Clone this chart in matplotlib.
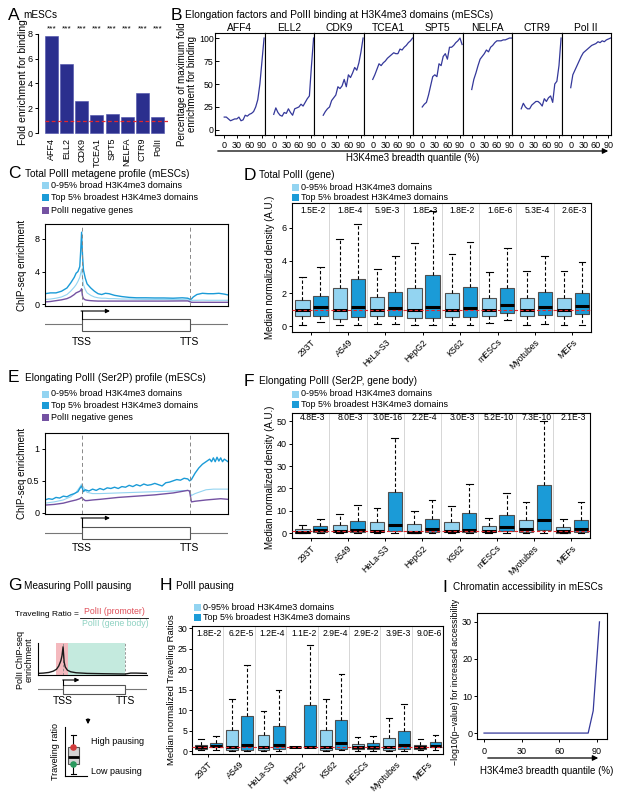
"""Multi-panel figure: elongation factors, PolII profiles and pausing at broad H3K4me3 domains."""
import matplotlib

matplotlib.use("Agg")
import matplotlib.pyplot as plt
from matplotlib.patches import Rectangle, FancyArrowPatch

plt.rcParams["font.family"] = ["Liberation Sans", "DejaVu Sans"]
plt.rcParams["axes.linewidth"] = 0.8
plt.rcParams["xtick.major.size"] = 2.5
plt.rcParams["ytick.major.size"] = 2.5
plt.rcParams["xtick.major.width"] = 0.7
plt.rcParams["ytick.major.width"] = 0.7
plt.rcParams["xtick.major.pad"] = 1.5
plt.rcParams["ytick.major.pad"] = 1.5

W, H = 621, 797

NAVY = "#2b2f8e"
LINE = "#34389a"
LIGHT = "#93d4f1"
DARK = "#1b9bd7"
PURPLE = "#7452a2"
RED = "#e3262c"

# ---------------- data ----------------
# A
factors = ["AFF4", "ELL2", "CDK9", "TCEA1", "SPT5", "NELFA", "CTR9", "PolII"]
fold_enrichment = [7.8, 5.6, 2.55, 1.45, 1.5, 1.3, 3.25, 1.3]

# B
b_titles = ["AFF4", "ELL2", "CDK9", "TCEA1", "SPT5", "NELFA", "CTR9", "Pol II"]
quantiles = [0, 5, 10, 15, 20, 25, 30, 35, 40, 45, 50, 55, 60, 65, 70, 75, 80, 85, 90, 95]
pct_aff4 = [14, 14, 12, 10, 11, 12, 12, 14, 10, 11, 16, 15, 17, 18, 20, 25, 33, 50, 75, 100]
pct_ell2 = [17, 24, 19, 16, 15, 19, 18, 23, 19, 16, 23, 24, 25, 28, 26, 30, 34, 37, 70, 100]
pct_cdk9 = [16, 20, 23, 25, 32, 35, 38, 47, 45, 48, 55, 47, 60, 57, 62, 68, 65, 73, 85, 100]
pct_tcea1 = [55, 60, 66, 72, 70, 73, 75, 78, 80, 82, 84, 83, 83, 88, 87, 90, 92, 95, 97, 100]
pct_spt5 = [25, 28, 30, 38, 48, 58, 60, 58, 72, 70, 80, 83, 77, 90, 90, 92, 95, 97, 100, 93]
pct_nelfa = [44, 55, 62, 70, 77, 80, 83, 87, 85, 90, 92, 95, 97, 97, 97, 98, 98, 99, 100, 100]
pct_ctr9 = [23, 29, 25, 23, 23, 27, 29, 31, 31, 29, 26, 34, 31, 35, 37, 30, 50, 53, 70, 100]
pct_polii = [46, 60, 65, 70, 75, 80, 84, 86, 88, 90, 92, 93, 94, 96, 95, 97, 96, 98, 99, 100]
b_series = [pct_aff4, pct_ell2, pct_cdk9, pct_tcea1, pct_spt5, pct_nelfa, pct_ctr9, pct_polii]

# C (metagene position, TSS = 20, TTS = 79)
c_pos = [0, 3, 6, 9, 12, 14, 16, 17, 18, 19, 19.5, 20, 20.5, 21, 22, 23, 25, 27, 29, 31, 33,
         35, 38, 42, 46, 50, 55, 60, 65, 70, 75, 78, 79.5, 80, 81, 83, 86, 89, 92, 95, 98, 100]
c_top5 = [1.3, 1.4, 1.4, 1.6, 2.0, 2.6, 3.3, 3.8, 4.0, 4.6, 6.5, 8.8, 6.0, 4.2, 3.2, 2.5, 2.0,
          1.6, 1.3, 1.2, 1.35, 1.3, 1.1, 0.95, 0.85, 0.8, 0.8, 0.78, 0.78, 0.75, 0.8, 0.75, 0.6,
          0.65, 0.9, 1.2, 1.35, 1.3, 1.3, 1.35, 1.25, 1.15]
c_rest = [0.6, 0.65, 0.75, 0.9, 1.2, 1.6, 2.1, 2.4, 2.8, 3.3, 3.8, 4.3, 3.3, 2.4, 1.8, 1.4, 1.1,
          0.9, 0.8, 0.75, 0.75, 0.7, 0.7, 0.65, 0.65, 0.62, 0.6, 0.6, 0.6, 0.58, 0.58, 0.55, 0.45,
          0.45, 0.5, 0.5, 0.52, 0.5, 0.5, 0.5, 0.5, 0.5]
c_neg = [0.3, 0.35, 0.45, 0.55, 0.7, 0.9, 1.2, 1.4, 1.5, 1.6, 1.7, 1.9, 1.0, 0.7, 0.55, 0.5, 0.45,
         0.42, 0.4, 0.4, 0.4, 0.4, 0.4, 0.4, 0.4, 0.4, 0.4, 0.4, 0.4, 0.41, 0.42, 0.42, 0.3,
         0.25, 0.25, 0.25, 0.25, 0.25, 0.25, 0.25, 0.25, 0.25]

# E
e_pos = [0, 2, 4, 6, 8, 10, 12, 14, 16, 18, 19, 20, 21, 22, 24, 26, 28, 30, 32, 34, 36, 38, 40,
         42, 44, 46, 48, 50, 52, 54, 56, 58, 60, 62, 64, 66, 68, 70, 72, 74, 76, 78, 79, 80, 81,
         82, 84, 86, 88, 90, 91, 92, 93, 94, 95, 96, 97, 98, 100]
e_top5 = [0.2, 0.22, 0.21, 0.24, 0.23, 0.26, 0.25, 0.28, 0.3, 0.33, 0.38, 0.42, 0.33, 0.36, 0.34,
          0.37, 0.35, 0.38, 0.36, 0.39, 0.38, 0.4, 0.38, 0.41, 0.4, 0.43, 0.41, 0.44, 0.42, 0.45,
          0.43, 0.44, 0.46, 0.44, 0.42, 0.47, 0.48, 0.5, 0.52, 0.51, 0.54, 0.53, 0.5, 0.52, 0.57,
          0.62, 0.7, 0.76, 0.8, 0.84, 0.8, 0.86, 0.8, 0.87, 0.81, 0.86, 0.8, 0.84, 0.8]
e_pos_smooth = [0, 5, 10, 14, 17, 19, 20, 21, 22, 23, 26, 30, 40, 50, 60, 70, 78, 79, 80, 82,
                85, 88, 92, 96, 100]
e_rest = [0.15, 0.17, 0.2, 0.25, 0.32, 0.4, 0.45, 0.4, 0.35, 0.32, 0.3, 0.3, 0.31, 0.32, 0.33,
          0.34, 0.35, 0.34, 0.27, 0.3, 0.33, 0.36, 0.37, 0.37, 0.37]
e_neg = [0.12, 0.13, 0.15, 0.18, 0.2, 0.22, 0.24, 0.21, 0.19, 0.19, 0.2, 0.21, 0.24, 0.26, 0.28,
         0.31, 0.35, 0.34, 0.17, 0.18, 0.19, 0.2, 0.21, 0.22, 0.21]

# D, F, H boxplots: (whislo, q1, med, q3, whishi)
cell_lines = ["293T", "A549", "HeLa-S3", "HepG2", "K562", "mESCs", "Myotubes", "MEFs"]
d_light = [(0.1, 0.65, 1.0, 1.6, 3.0), (0.05, 0.45, 1.0, 2.35, 5.3), (0.15, 0.6, 1.0, 1.75, 3.5),
           (0.05, 0.5, 1.0, 2.3, 5.05), (0.05, 0.55, 1.0, 2.05, 4.4), (0.2, 0.65, 1.0, 1.7, 3.3),
           (0.1, 0.6, 1.0, 1.7, 3.35), (0.1, 0.6, 1.0, 1.7, 3.35)]
d_dark = [(0.25, 0.65, 1.15, 1.85, 3.6), (0.05, 0.55, 1.2, 2.85, 6.2), (0.15, 0.65, 1.1, 2.1, 4.25),
          (0.1, 0.5, 1.2, 3.1, 7.0), (0.1, 0.55, 1.1, 2.4, 5.1), (0.35, 0.8, 1.3, 2.35, 4.75),
          (0.15, 0.7, 1.2, 2.1, 4.25), (0.1, 0.75, 1.25, 2.05, 3.9)]
d_pvals = ["1.5E-2", "1.8E-4", "5.9E-3", "1.8E-3", "1.8E-2", "1.6E-6", "5.3E-4", "2.6E-3"]

f_light = [(0, 0.2, 0.7, 1.8, 3.8), (0, 0.3, 0.9, 3.5, 8.5), (0, 0.3, 1.0, 4.8, 11.2),
           (0, 0.2, 0.7, 4.0, 9.7), (0, 0.4, 1.0, 5.0, 12.0), (0, 0.3, 0.8, 3.0, 6.6),
           (0, 0.5, 2.0, 5.8, 13.8), (0, 0.2, 0.8, 2.7, 6.2)]
f_dark = [(0.1, 0.5, 1.3, 3.0, 6.3), (0, 0.4, 1.3, 5.3, 12.5), (0, 0.8, 3.8, 18.2, 42.5),
          (0, 0.5, 1.8, 6.3, 14.8), (0, 0.5, 1.6, 9.0, 21.8), (0, 1.0, 2.6, 8.1, 17.9),
          (0, 1.3, 6.0, 21.5, 50.0), (0, 0.5, 1.8, 6.0, 14.0)]
f_pvals = ["4.8E-3", "8.0E-3", "3.0E-16", "2.2E-4", "3.0E-3", "5.2E-10", "7.3E-10", "2.1E-3"]

h_light = [(0.3, 0.6, 1.0, 1.55, 2.9), (0.0, 0.2, 1.0, 5.2, 12.8), (0.0, 0.3, 1.0, 3.9, 9.7),
           (1.0, 1.0, 1.0, 1.05, 1.1), (0.0, 0.3, 1.1, 5.2, 12.8), (0.1, 0.5, 1.0, 1.7, 3.4),
           (0.0, 0.3, 0.9, 3.3, 8.1), (0.2, 0.5, 0.9, 1.55, 2.9)]
h_dark = [(0.2, 0.9, 1.3, 2.0, 3.8), (0.0, 0.3, 1.6, 8.6, 21.0), (0.0, 0.5, 1.5, 6.1, 15.0),
          (1.0, 1.0, 1.1, 11.2, 25.9), (0.2, 0.5, 2.0, 7.7, 18.7), (0.1, 0.6, 1.1, 2.0, 3.8),
          (0.0, 0.5, 1.4, 4.8, 11.6), (0.3, 1.0, 1.3, 2.2, 4.0)]
h_pvals = ["1.8E-2", "6.2E-5", "1.2E-4", "1.1E-2", "2.9E-4", "2.9E-2", "3.9E-3", "9.0E-6"]

# G schematic
g_pos = [0, 5, 10, 14, 17, 19, 21, 22, 23, 24, 25, 27, 30, 35, 45, 60, 80, 85, 90, 100]
g_signal = [0.05, 0.06, 0.08, 0.12, 0.18, 0.28, 0.45, 0.6, 0.88, 0.4, 0.25, 0.15, 0.1, 0.07,
            0.05, 0.04, 0.03, 0.06, 0.06, 0.05]
g_box = (2, 12, 19, 29, 41)

# I
i_quantile = [0, 10, 20, 30, 40, 50, 60, 70, 80, 83, 87, 92]
i_logp = [0, 0, 0, 0, 0, 0, 0, 0, 0, 0, 6, 30]

# ---------------- helpers ----------------
fig = plt.figure(figsize=(W / 100, H / 100), dpi=100)


def frac(x0, y0, x1, y1):
    return [x0 / W, 1 - y1 / H, (x1 - x0) / W, (y1 - y0) / H]


def ftext(x, y, s, **kw):
    kw.setdefault("fontsize", 7)
    kw.setdefault("va", "center")
    fig.text(x / W, 1 - y / H, s, **kw)


def panel_title(x, y, letter, title, gap=15):
    ftext(x, y, letter, fontsize=12.5)
    ftext(x + gap, y, title, fontsize=7.2)


def legend(x, y, labels, colors, dy, size=7):
    for i, (lab, col) in enumerate(zip(labels, colors)):
        yy = y + i * dy
        fig.add_artist(Rectangle((x / W, 1 - (yy + size / 2) / H), size / W, size / H,
                                 transform=fig.transFigure, fc=col, ec="none"))
        ftext(x + size + 2, yy, lab, fontsize=6.5)


def fig_arrow(x0, y0, x1, y1, scale=8):
    fig.add_artist(FancyArrowPatch(
        (x0 / W, 1 - y0 / H), (x1 / W, 1 - y1 / H), transform=fig.transFigure,
        arrowstyle="-|>", mutation_scale=scale, lw=0.9, color="k"))


def gene_diagram(x0, x1, y_arrow, y_box0, y_box1, y_line, y_label, tss, tts, arrow_end):
    ax = fig.add_axes(frac(x0, y_arrow - 3, x1, y_label + 8))
    ax.set_xlim(0, 100)
    ax.set_ylim(y_label + 8, y_arrow - 3)
    ax.axis("off")
    ax.plot([0, 100], [y_line, y_line], color="#777777", lw=0.8)
    ax.add_patch(Rectangle((tss, y_box0), tts - tss, y_box1 - y_box0, fc="white",
                           ec="#555555", lw=0.8, zorder=3))
    ax.plot([tss, tss], [y_box0, y_arrow], color="k", lw=0.8, zorder=4)
    ax.annotate("", xy=(arrow_end, y_arrow), xytext=(tss - 0.3, y_arrow),
                arrowprops=dict(arrowstyle="-|>", lw=0.8, color="k", mutation_scale=6,
                                shrinkA=0, shrinkB=0))
    ax.text(tss, y_label, "TSS", ha="center", va="center", fontsize=7.5)
    ax.text(tts, y_label, "TTS", ha="center", va="center", fontsize=7.5)
    return ax


def metagene(box, series, ylim, yticks, yticklabels):
    ax = fig.add_axes(frac(*box))
    for pos, vals, col, lw in series:
        ax.plot(pos, vals, color=col, lw=lw)
    ax.set_xlim(0, 100)
    ax.set_ylim(*ylim)
    ax.set_xticks([])
    ax.set_yticks(yticks)
    ax.set_yticklabels(yticklabels, fontsize=6.5)
    for x in (20, 79):
        ax.axvline(x, color="#888888", lw=0.7, ls=(0, (4, 3)))
    return ax


def box_panel(box, light, dark, pvals, ylim, yticks, p_y):
    ax = fig.add_axes(frac(*box))
    n = len(cell_lines)
    common = dict(widths=0.38, patch_artist=True, showfliers=False,
                  medianprops=dict(color="k", lw=2.2, solid_capstyle="butt"),
                  whiskerprops=dict(color="k", lw=0.8, ls=(0, (3, 2))),
                  capprops=dict(color="k", lw=0.8), capwidths=0.18)
    for stats, off, col in ((light, 0.28, LIGHT), (dark, 0.76, DARK)):
        bx = [dict(whislo=s[0], q1=s[1], med=s[2], q3=s[3], whishi=s[4]) for s in stats]
        ax.bxp(bx, positions=[i + off for i in range(n)],
               boxprops=dict(facecolor=col, edgecolor="#505050", lw=0.8), **common)
    for i in range(1, n):
        ax.axvline(i, color="#d0d0d0", lw=0.6, zorder=0)
    ax.axhline(1, color=RED, lw=0.8, ls=(0, (3, 2)), zorder=5)
    for i, p in enumerate(pvals):
        ax.text(i + 0.56, p_y, p, transform=ax.get_xaxis_transform(), ha="center",
                va="center", fontsize=6.2)
    ax.set_xlim(0, n)
    ax.set_ylim(*ylim)
    ax.set_xticks([i + 0.5 for i in range(n)])
    ax.set_xticklabels(cell_lines, rotation=45, ha="right", rotation_mode="anchor", fontsize=6.3)
    ax.set_yticks(yticks)
    ax.tick_params(axis="y", labelsize=6.5)
    return ax


# ---------------- A ----------------
panel_title(8, 15, "A", "mESCs")
ax = fig.add_axes(frac(38, 30, 168, 135))
ax.bar(range(len(factors)), fold_enrichment, width=0.86, color=NAVY, edgecolor="#4a4ea8", lw=0.4)
ax.axhline(1, xmin=0.05, color=RED, lw=0.9, ls=(0, (3, 2)))
for i in range(len(factors)):
    ax.text(i, 8.4, "***", ha="center", va="center", fontsize=6, clip_on=False)
ax.set_xlim(-0.9, 7.7)
ax.set_ylim(-0.15, 8.3)
for s in ("top", "right", "bottom"):
    ax.spines[s].set_visible(False)
ax.spines["left"].set_bounds(0, 8)
ax.set_yticks([0, 2, 4, 6, 8])
ax.tick_params(axis="y", labelsize=6.5)
ax.set_xticks(range(len(factors)))
ax.set_xticklabels(factors, rotation=90, fontsize=6.5)
ax.tick_params(axis="x", length=0, pad=2)
ftext(23, 82, "Fold enrichment for binding", rotation=90, ha="center", fontsize=7.5)

# ---------------- B ----------------
ftext(171, 15, "B", fontsize=12.5)
ftext(185, 15, "Elongation factors and PolII binding at H3K4me3 domains (mESCs)", fontsize=7.4)
bx0, bx1 = 215, 611
bw = (bx1 - bx0) / len(b_titles)
for k, (title, vals) in enumerate(zip(b_titles, b_series)):
    ax = fig.add_axes(frac(bx0 + k * bw, 33, bx0 + (k + 1) * bw, 135))
    ax.plot(quantiles, vals, color=LINE, lw=0.9)
    ax.set_xlim(-22, 96)
    ax.set_ylim(-5.5, 105.5)
    ax.set_xticks([0, 30, 60, 90])
    ax.tick_params(axis="x", labelsize=6.5)
    ax.set_yticks([0, 25, 50, 75, 100])
    if k == 0:
        ax.tick_params(axis="y", labelsize=6.3, direction="in", length=3, pad=1)
    else:
        ax.tick_params(axis="y", length=0, labelleft=False)
    ax.set_title(title, fontsize=7.4, pad=1.5)
ftext(187, 84, "Percentage of maximum fold\nenrichment for binding", rotation=90,
      ha="center", fontsize=7, linespacing=0.95)
fig_arrow(215, 151, 611, 151)
ftext(413, 158, "H3K4me3 breadth quantile (%)", ha="center", fontsize=7)

# ---------------- C ----------------
panel_title(8, 174, "C", "Total PolII metagene profile (mESCs)", gap=17)
legend(42, 185, ["0-95% broad H3K4me3 domains", "Top 5% broadest H3K4me3 domains",
                 "PolII negative genes"], [LIGHT, DARK, PURPLE], 12.7)
metagene((45, 224, 228, 306),
         [(c_pos, c_rest, LIGHT, 0.8), (c_pos, c_neg, PURPLE, 1.0), (c_pos, c_top5, DARK, 1.0)],
         (-0.2, 9.8), [0, 4, 8], ["0", "4", "8"])
ftext(22, 265, "ChIP-seq enrichment", rotation=90, ha="center", fontsize=7)
gene_diagram(45, 228, 311, 319, 331, 324, 342, 20, 79, 35.5)

# ---------------- D ----------------
panel_title(244, 175, "D", "Total PolII (gene)")
legend(292, 187, ["0-95% broad H3K4me3 domains", "Top 5% broadest H3K4me3 domains"],
       [LIGHT, DARK], 10.3)
box_panel((292, 203, 591, 332), d_light, d_dark, d_pvals, (-0.35, 7.5), [0, 2, 4, 6], 0.94)
ftext(270, 267, "Median normalized density (A.U.)", rotation=90, ha="center", fontsize=7)

# ---------------- E ----------------
panel_title(8, 378, "E", "Elongating PolII (Ser2P) profile (mESCs)", gap=17)
legend(42, 394, ["0-95% broad H3K4me3 domains", "Top 5% broadest H3K4me3 domains",
                 "PolII negative genes"], [LIGHT, DARK, PURPLE], 12)
metagene((45, 433, 228, 514),
         [(e_pos_smooth, e_rest, LIGHT, 0.8), (e_pos_smooth, e_neg, PURPLE, 1.0),
          (e_pos, e_top5, DARK, 1.0)],
         (-0.02, 1.25), [0, 0.5, 1], ["0", "0.5", "1"])
ftext(22, 473, "ChIP-seq enrichment", rotation=90, ha="center", fontsize=7)
gene_diagram(45, 228, 518, 527, 539, 533, 548, 20, 79, 35.5)

# ---------------- F ----------------
panel_title(244, 381, "F", "Elongating PolII (Ser2P, gene body)")
legend(292, 394, ["0-95% broad H3K4me3 domains", "Top 5% broadest H3K4me3 domains"],
       [LIGHT, DARK], 10.3)
box_panel((292, 413, 590, 538), f_light, f_dark, f_pvals, (-2.2, 53.8),
          [0, 10, 20, 30, 40, 50], 0.968)
ftext(270, 477, "Median normalized density (A.U.)", rotation=90, ha="center", fontsize=7)

# ---------------- G ----------------
panel_title(8, 586, "G", "Measuring PolII pausing", gap=16)
ftext(15, 615, "Traveling Ratio =", fontsize=6)
ftext(114, 611, "PolII (promoter)", color="#e0505a", ha="center", fontsize=6.3)
fig.add_artist(plt.Line2D([80 / W, 148 / W], [1 - 617.5 / H, 1 - 617.5 / H],
                          transform=fig.transFigure, color="k", lw=0.6))
ftext(115, 623, "PolII (gene body)", color="#8fd2c2", ha="center", fontsize=6.3)

ax = fig.add_axes(frac(38, 643, 147, 675))
ax.axvspan(16.5, 27.5, color="#f4b9be", lw=0)
ax.axvspan(27.5, 80, color="#c4eade", lw=0)
ax.axvline(23, color="#888888", lw=0.6, ls=(0, (3, 2)))
ax.axvline(80, color="#888888", lw=0.6, ls=(0, (3, 2)))
ax.plot(g_pos, g_signal, color="#1a1a1a", lw=1.0)
ax.set_xlim(0, 100)
ax.set_ylim(0, 1.0)
ax.set_xticks([])
ax.set_yticks([])
ax.spines["top"].set_visible(False)
ax.spines["right"].set_visible(False)
ftext(25, 660, "PolII ChIP-seq\nenrichment", rotation=90, ha="center", fontsize=6.5,
      linespacing=1.0)
gene_diagram(38, 147, 680, 685, 694, 689, 701, 23, 80, 38)
fig_arrow(88, 716, 88, 727, scale=6)

ax = fig.add_axes(frac(65, 727, 87, 776))
ax.bxp([dict(whislo=g_box[0], q1=g_box[1], med=g_box[2], q3=g_box[3], whishi=g_box[4])],
       positions=[0.38], widths=0.48, patch_artist=True, showfliers=False,
       boxprops=dict(facecolor="#d3d3d3", edgecolor="#555555", lw=0.8),
       medianprops=dict(color="k", lw=2.0), whiskerprops=dict(color="k", lw=0.8),
       capprops=dict(color="k", lw=0.8))
ax.scatter([0.38], [g_box[3]], s=14, color="#d23c3c", zorder=5)
ax.scatter([0.38], [g_box[1]], s=14, color="#2a9a5e", zorder=5)
ax.set_xlim(0, 1)
ax.set_ylim(0, 49)
ax.set_xticks([])
ax.set_yticks([])
ax.spines["top"].set_visible(False)
ax.spines["right"].set_visible(False)
ftext(55, 751, "Traveling ratio", rotation=90, ha="center", fontsize=6.5)
ftext(91, 741, "High pausing", fontsize=6.5)
ftext(91, 771, "Low pausing", fontsize=6.5)

# ---------------- H ----------------
panel_title(160, 586, "H", "PolII pausing", gap=16)
legend(194, 607, ["0-95% broad H3K4me3 domains", "Top 5% broadest H3K4me3 domains"],
       [LIGHT, DARK], 10)
ax = box_panel((192, 626, 443, 754), h_light, h_dark, h_pvals, (-0.7, 30.5),
               [0, 5, 10, 15, 20, 25, 30], 0.94)
ax.tick_params(axis="y", pad=1, labelsize=6.3)
ftext(172, 690, "Median normalized Traveling Ratios", rotation=90, ha="center", fontsize=6.8)

# ---------------- I ----------------
ftext(442, 587, "I", fontsize=12.5)
ftext(453, 587, "Chromatin accessibility in mESCs", fontsize=7.2)
ax = fig.add_axes(frac(477, 613, 607, 739))
ax.plot(i_quantile, i_logp, color=LINE, lw=0.9)
ax.set_xlim(-5.6, 98)
ax.set_ylim(-1.6, 32.4)
ax.set_xticks([0, 30, 60, 90])
ax.set_yticks([0, 10, 20, 30])
ax.tick_params(labelsize=6.5)
ax.tick_params(axis="x", pad=3)
ax.tick_params(axis="y", pad=1)
ftext(456, 682, "\u2212log10(p\u2212value) for increased accessibility", rotation=90,
      ha="center", fontsize=6.3)
fig_arrow(485, 758, 601, 758)
ftext(547, 771, "H3K4me3 breadth quantile (%)", ha="center", fontsize=7)

fig.savefig("out.png", dpi=100)
